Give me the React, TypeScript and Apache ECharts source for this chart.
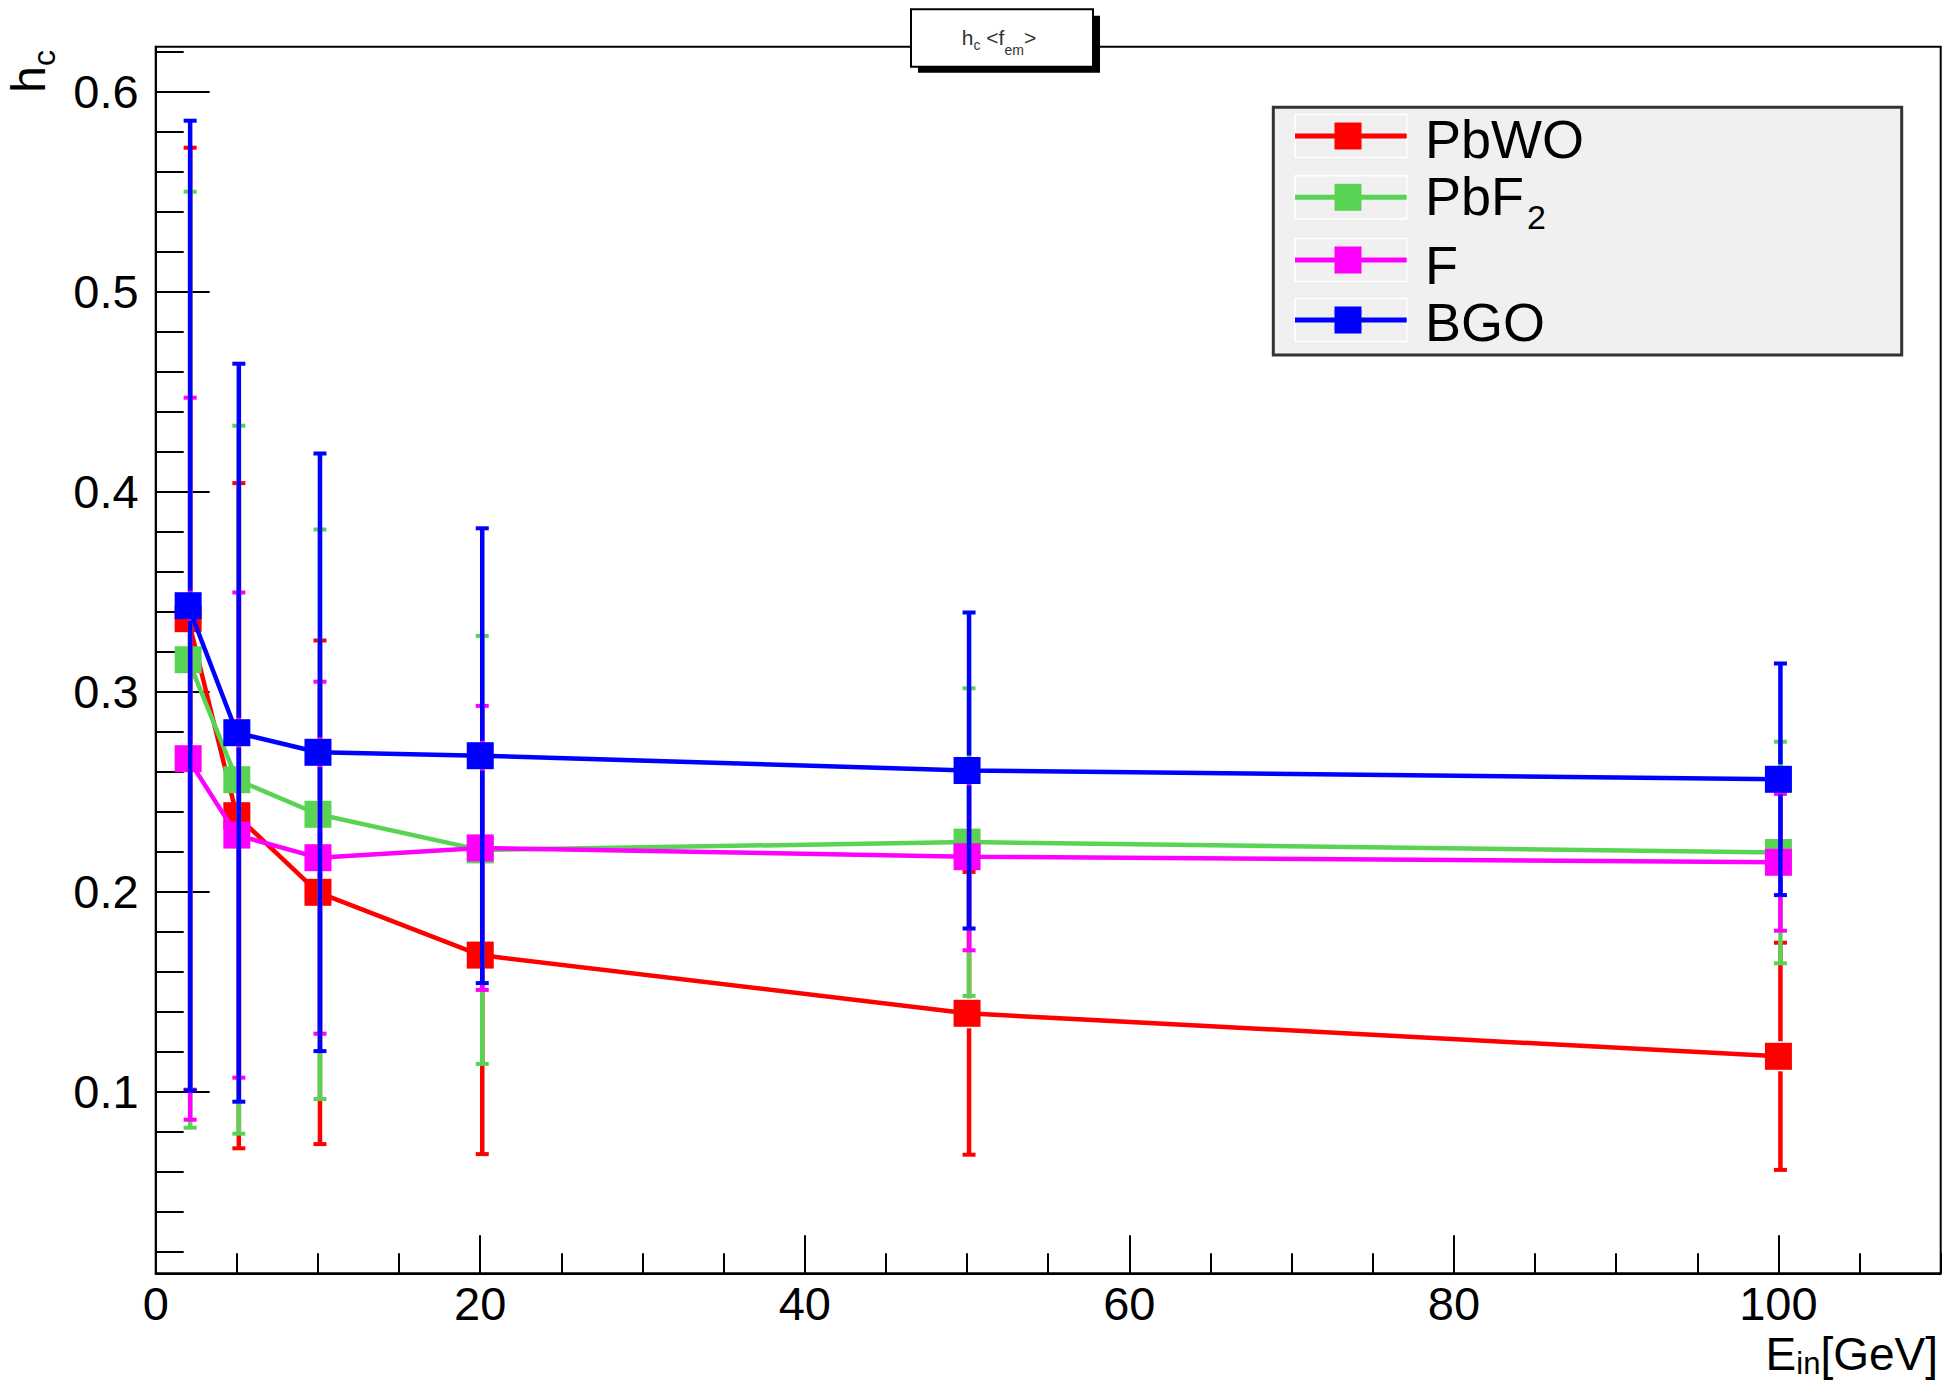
import React, { useEffect, useRef } from "react";
import * as echarts from "echarts";

// ---------------- data ----------------
const energies = [2, 5, 10, 20, 50, 100];

const pbwoValues = [0.3365, 0.238, 0.1997, 0.1683, 0.1392, 0.1177];
const pbwoErrors = [0.2355, 0.1663, 0.1259, 0.0995, 0.0707, 0.0568];

const pbf2Values = [0.316, 0.256, 0.2387, 0.2209, 0.2248, 0.2196];
const pbf2Errors = [0.234, 0.177, 0.1424, 0.107, 0.0769, 0.0554];

const fValues = [0.2665, 0.2283, 0.217, 0.2219, 0.2175, 0.2147];
const fErrors = [0.1805, 0.1213, 0.088, 0.071, 0.0468, 0.0342];

const bgoValues = [0.343, 0.2795, 0.2697, 0.268, 0.2606, 0.2562];
const bgoErrors = [0.2425, 0.1845, 0.1494, 0.1137, 0.079, 0.0579];

const seriesNames = ["PbWO", "PbF2", "F", "BGO"];
const seriesColors = ["#ff0000", "#59d354", "#ff00ff", "#0000ff"];

const X_MAJOR_INTERVAL = 20;
const X_MINOR_INTERVAL = 5;
const yMajorTicks = [0.1, 0.2, 0.3, 0.4, 0.5, 0.6];
const yMinorTicks = [
  0.02, 0.04, 0.06, 0.08, 0.12, 0.14, 0.16, 0.18, 0.22, 0.24, 0.26, 0.28,
  0.32, 0.34, 0.36, 0.38, 0.42, 0.44, 0.46, 0.48, 0.52, 0.54, 0.56, 0.58, 0.62,
];

const X_MIN = 0;
const X_MAX = 110;
const Y_MIN = 0.0092;
const Y_MAX = 0.6225;

const FONT = "'Liberation Sans', Arial, Helvetica, sans-serif";

const allValues = [pbwoValues, pbf2Values, fValues, bgoValues];
const allErrors = [pbwoErrors, pbf2Errors, fErrors, bgoErrors];

function makeErrorRenderer(color: string) {
  return (params: any, api: any) => {
    const x = api.value(0);
    const y = api.value(1);
    const e = api.value(2);
    const c = api.coord([x, y]);
    const t = api.coord([x, y + e]);
    const b = api.coord([x, y - e]);
    const px = c[0] + 2;
    const gap = 15;
    const barStyle = { stroke: color, lineWidth: 4.5 };
    const capStyle = { stroke: color, lineWidth: 4 };
    const kids: any[] = [];
    if (c[1] - gap > t[1]) {
      kids.push({ type: "line", shape: { x1: px, y1: t[1], x2: px, y2: c[1] - gap }, style: barStyle });
    }
    if (c[1] + gap < b[1]) {
      kids.push({ type: "line", shape: { x1: px, y1: c[1] + gap, x2: px, y2: b[1] }, style: barStyle });
    }
    kids.push({ type: "line", shape: { x1: px - 6.5, y1: t[1], x2: px + 6.5, y2: t[1] }, style: capStyle });
    kids.push({ type: "line", shape: { x1: px - 6.5, y1: b[1], x2: px + 6.5, y2: b[1] }, style: capStyle });
    return { type: "group", children: kids };
  };
}

function buildSeries() {
  const out: any[] = [];
  seriesNames.forEach((name, i) => {
    const vals = allValues[i];
    const errs = allErrors[i];
    const color = seriesColors[i];
    out.push({
      type: "custom",
      name: name + " errors",
      xAxisIndex: 0,
      yAxisIndex: 0,
      z: 10 + i * 2,
      silent: true,
      encode: { x: 0, y: 1 },
      data: energies.map((x, j) => [x, vals[j], errs[j]]),
      renderItem: makeErrorRenderer(color),
    });
    out.push({
      type: "line",
      name,
      xAxisIndex: 0,
      yAxisIndex: 0,
      z: 11 + i * 2,
      data: energies.map((x, j) => [x, vals[j]]),
      symbol: "rect",
      symbolSize: 27,
      showSymbol: true,
      showAllSymbol: true,
      itemStyle: { color, borderWidth: 0 },
      lineStyle: { color, width: 4.5 },
      emphasis: { disabled: true },
    });
  });
  return out;
}

function buildLegend() {
  const els: any[] = [];
  const boxX = 1273.3;
  const boxY = 107.3;
  const boxW = 1901.7 - 1273.3;
  const boxH = 355 - 107.3;
  els.push({
    type: "rect",
    z: 100,
    shape: { x: boxX, y: boxY, width: boxW, height: boxH },
    style: { fill: "#f0f0f0", stroke: "#333333", lineWidth: 3 },
  });
  const rowY = [136, 197.3, 260, 320];
  const textCenters = [139, 0, 265, 322];
  const textX = 1425;
  seriesNames.forEach((name, i) => {
    const y = rowY[i];
    const color = seriesColors[i];
    els.push({
      type: "rect",
      z: 101,
      shape: { x: 1295, y: y - 21.5, width: 111.7, height: 43 },
      style: { fill: "none", stroke: "#ffffff", lineWidth: 1.5 },
    });
    els.push({
      type: "line",
      z: 102,
      shape: { x1: 1295, y1: y, x2: 1406.7, y2: y },
      style: { stroke: color, lineWidth: 5 },
    });
    els.push({
      type: "rect",
      z: 103,
      shape: { x: 1348 - 13.5, y: y - 13.5, width: 27, height: 27 },
      style: { fill: color },
    });
    if (name === "PbF2") {
      els.push({
        type: "text",
        z: 103,
        x: textX,
        y: 169.3,
        style: {
          text: "{a|PbF}{b|2}",
          align: "left",
          verticalAlign: "top",
          fill: "#000",
          rich: {
            a: { fontSize: 54, lineHeight: 46, fontFamily: FONT, fill: "#000", verticalAlign: "top" },
            b: { fontSize: 34, lineHeight: 30, fontFamily: FONT, fill: "#000", padding: [31, 0, 0, 3], verticalAlign: "top" },
          },
        },
      });
    } else {
      els.push({
        type: "text",
        z: 103,
        x: textX,
        y: textCenters[i],
        style: {
          text: name,
          align: "left",
          verticalAlign: "middle",
          fontSize: 54,
          lineHeight: 46,
          fontFamily: FONT,
          fill: "#000",
        },
      });
    }
  });
  return els;
}

function buildGraphics() {
  const els: any[] = [];
  // title box with shadow
  els.push({
    type: "rect",
    z: 100,
    shape: { x: 918, y: 15.7, width: 182, height: 57 },
    style: { fill: "#000" },
  });
  els.push({
    type: "rect",
    z: 101,
    shape: { x: 911, y: 9.3, width: 182, height: 57.4 },
    style: { fill: "#fff", stroke: "#000", lineWidth: 2 },
  });
  els.push({
    type: "text",
    z: 102,
    x: 999,
    y: 27.2,
    style: {
      text: "{a|h}{b|c}{a| <f}{c|em}{a|>}",
      align: "center",
      verticalAlign: "top",
      fill: "#333",
      rich: {
        a: { fontSize: 21, lineHeight: 21, fontFamily: FONT, fill: "#333", verticalAlign: "top" },
        b: { fontSize: 14, lineHeight: 14, fontFamily: FONT, fill: "#333", padding: [11, 0, 0, 0], verticalAlign: "top" },
        c: { fontSize: 14, lineHeight: 14, fontFamily: FONT, fill: "#333", padding: [16, 0, 0, 0], verticalAlign: "top" },
      },
    },
  });
  // y axis title (rotated)
  els.push({
    type: "text",
    z: 50,
    x: 4,
    y: 50,
    rotation: Math.PI / 2,
    style: {
      text: "{a|h}{b|c}",
      align: "right",
      verticalAlign: "top",
      fill: "#000",
      rich: {
        a: { fontSize: 48, lineHeight: 48, fontFamily: FONT, fill: "#000", verticalAlign: "top" },
        b: { fontSize: 32, lineHeight: 32, fontFamily: FONT, fill: "#000", padding: [24, 0, 0, 0], verticalAlign: "top" },
      },
    },
  });
  // x axis title
  els.push({
    type: "text",
    z: 50,
    x: 1938,
    y: 1331,
    style: {
      text: "{a|E}{b|in}{a|[GeV]}",
      align: "right",
      verticalAlign: "top",
      fill: "#000",
      rich: {
        a: { fontSize: 46, lineHeight: 47, fontFamily: FONT, fill: "#000", verticalAlign: "top" },
        b: { fontSize: 31, lineHeight: 32, fontFamily: FONT, fill: "#000", padding: [17, 0, 0, 0], verticalAlign: "top" },
      },
    },
  });
  return els.concat(buildLegend());
}

export default function App() {
  const ref = useRef<HTMLDivElement>(null);

  useEffect(() => {
    if (!ref.current) return;
    const chart = echarts.init(ref.current, null, { renderer: "svg" });
    const axisLineStyle = { color: "#000", width: 2 };
    const option: any = {
      animation: false,
      backgroundColor: "#ffffff",
      grid: {
        left: 155.7,
        right: 4.3,
        top: 46.7,
        bottom: 111.7,
        show: true,
        borderColor: "#000",
        borderWidth: 2,
        backgroundColor: "transparent",
        containLabel: false,
      },
      xAxis: [
        {
          type: "value",
          min: X_MIN,
          max: X_MAX,
          interval: X_MAJOR_INTERVAL,
          position: "bottom",
          axisLine: { show: true, lineStyle: axisLineStyle },
          axisTick: { show: true, inside: true, length: 38, lineStyle: axisLineStyle },
          axisLabel: {
            show: true,
            margin: 7,
            fontSize: 47,
            fontFamily: FONT,
            color: "#000",
            showMaxLabel: false,
            formatter: (v: number) => (v > 100 ? "" : String(v)),
          },
          splitLine: { show: false },
        },
        {
          type: "value",
          min: X_MIN,
          max: X_MAX,
          interval: X_MINOR_INTERVAL,
          position: "bottom",
          axisLine: { show: false },
          axisTick: { show: true, inside: true, length: 20, lineStyle: axisLineStyle },
          axisLabel: { show: false },
          splitLine: { show: false },
        },
      ],
      yAxis: [
        {
          type: "value",
          min: Y_MIN,
          max: Y_MAX,
          position: "left",
          axisLine: { show: true, lineStyle: axisLineStyle },
          axisTick: { show: true, inside: true, length: 54, customValues: yMajorTicks, lineStyle: axisLineStyle },
          axisLabel: {
            show: true,
            customValues: yMajorTicks,
            margin: 17,
            fontSize: 47,
            fontFamily: FONT,
            color: "#000",
            formatter: (v: number) => v.toFixed(1),
          },
          splitLine: { show: false },
        },
        {
          type: "value",
          min: Y_MIN,
          max: Y_MAX,
          position: "left",
          axisLine: { show: false },
          axisTick: { show: true, inside: true, length: 28, customValues: yMinorTicks, lineStyle: axisLineStyle },
          axisLabel: { show: false },
          splitLine: { show: false },
        },
      ],
      series: buildSeries(),
      graphic: { elements: buildGraphics() },
    };
    chart.setOption(option);
    return () => {
      chart.dispose();
    };
  }, []);

  return (
    <div
      ref={ref}
      style={{ position: "absolute", left: 0, top: 0, width: 1945, height: 1385, background: "#fff" }}
    />
  );
}
